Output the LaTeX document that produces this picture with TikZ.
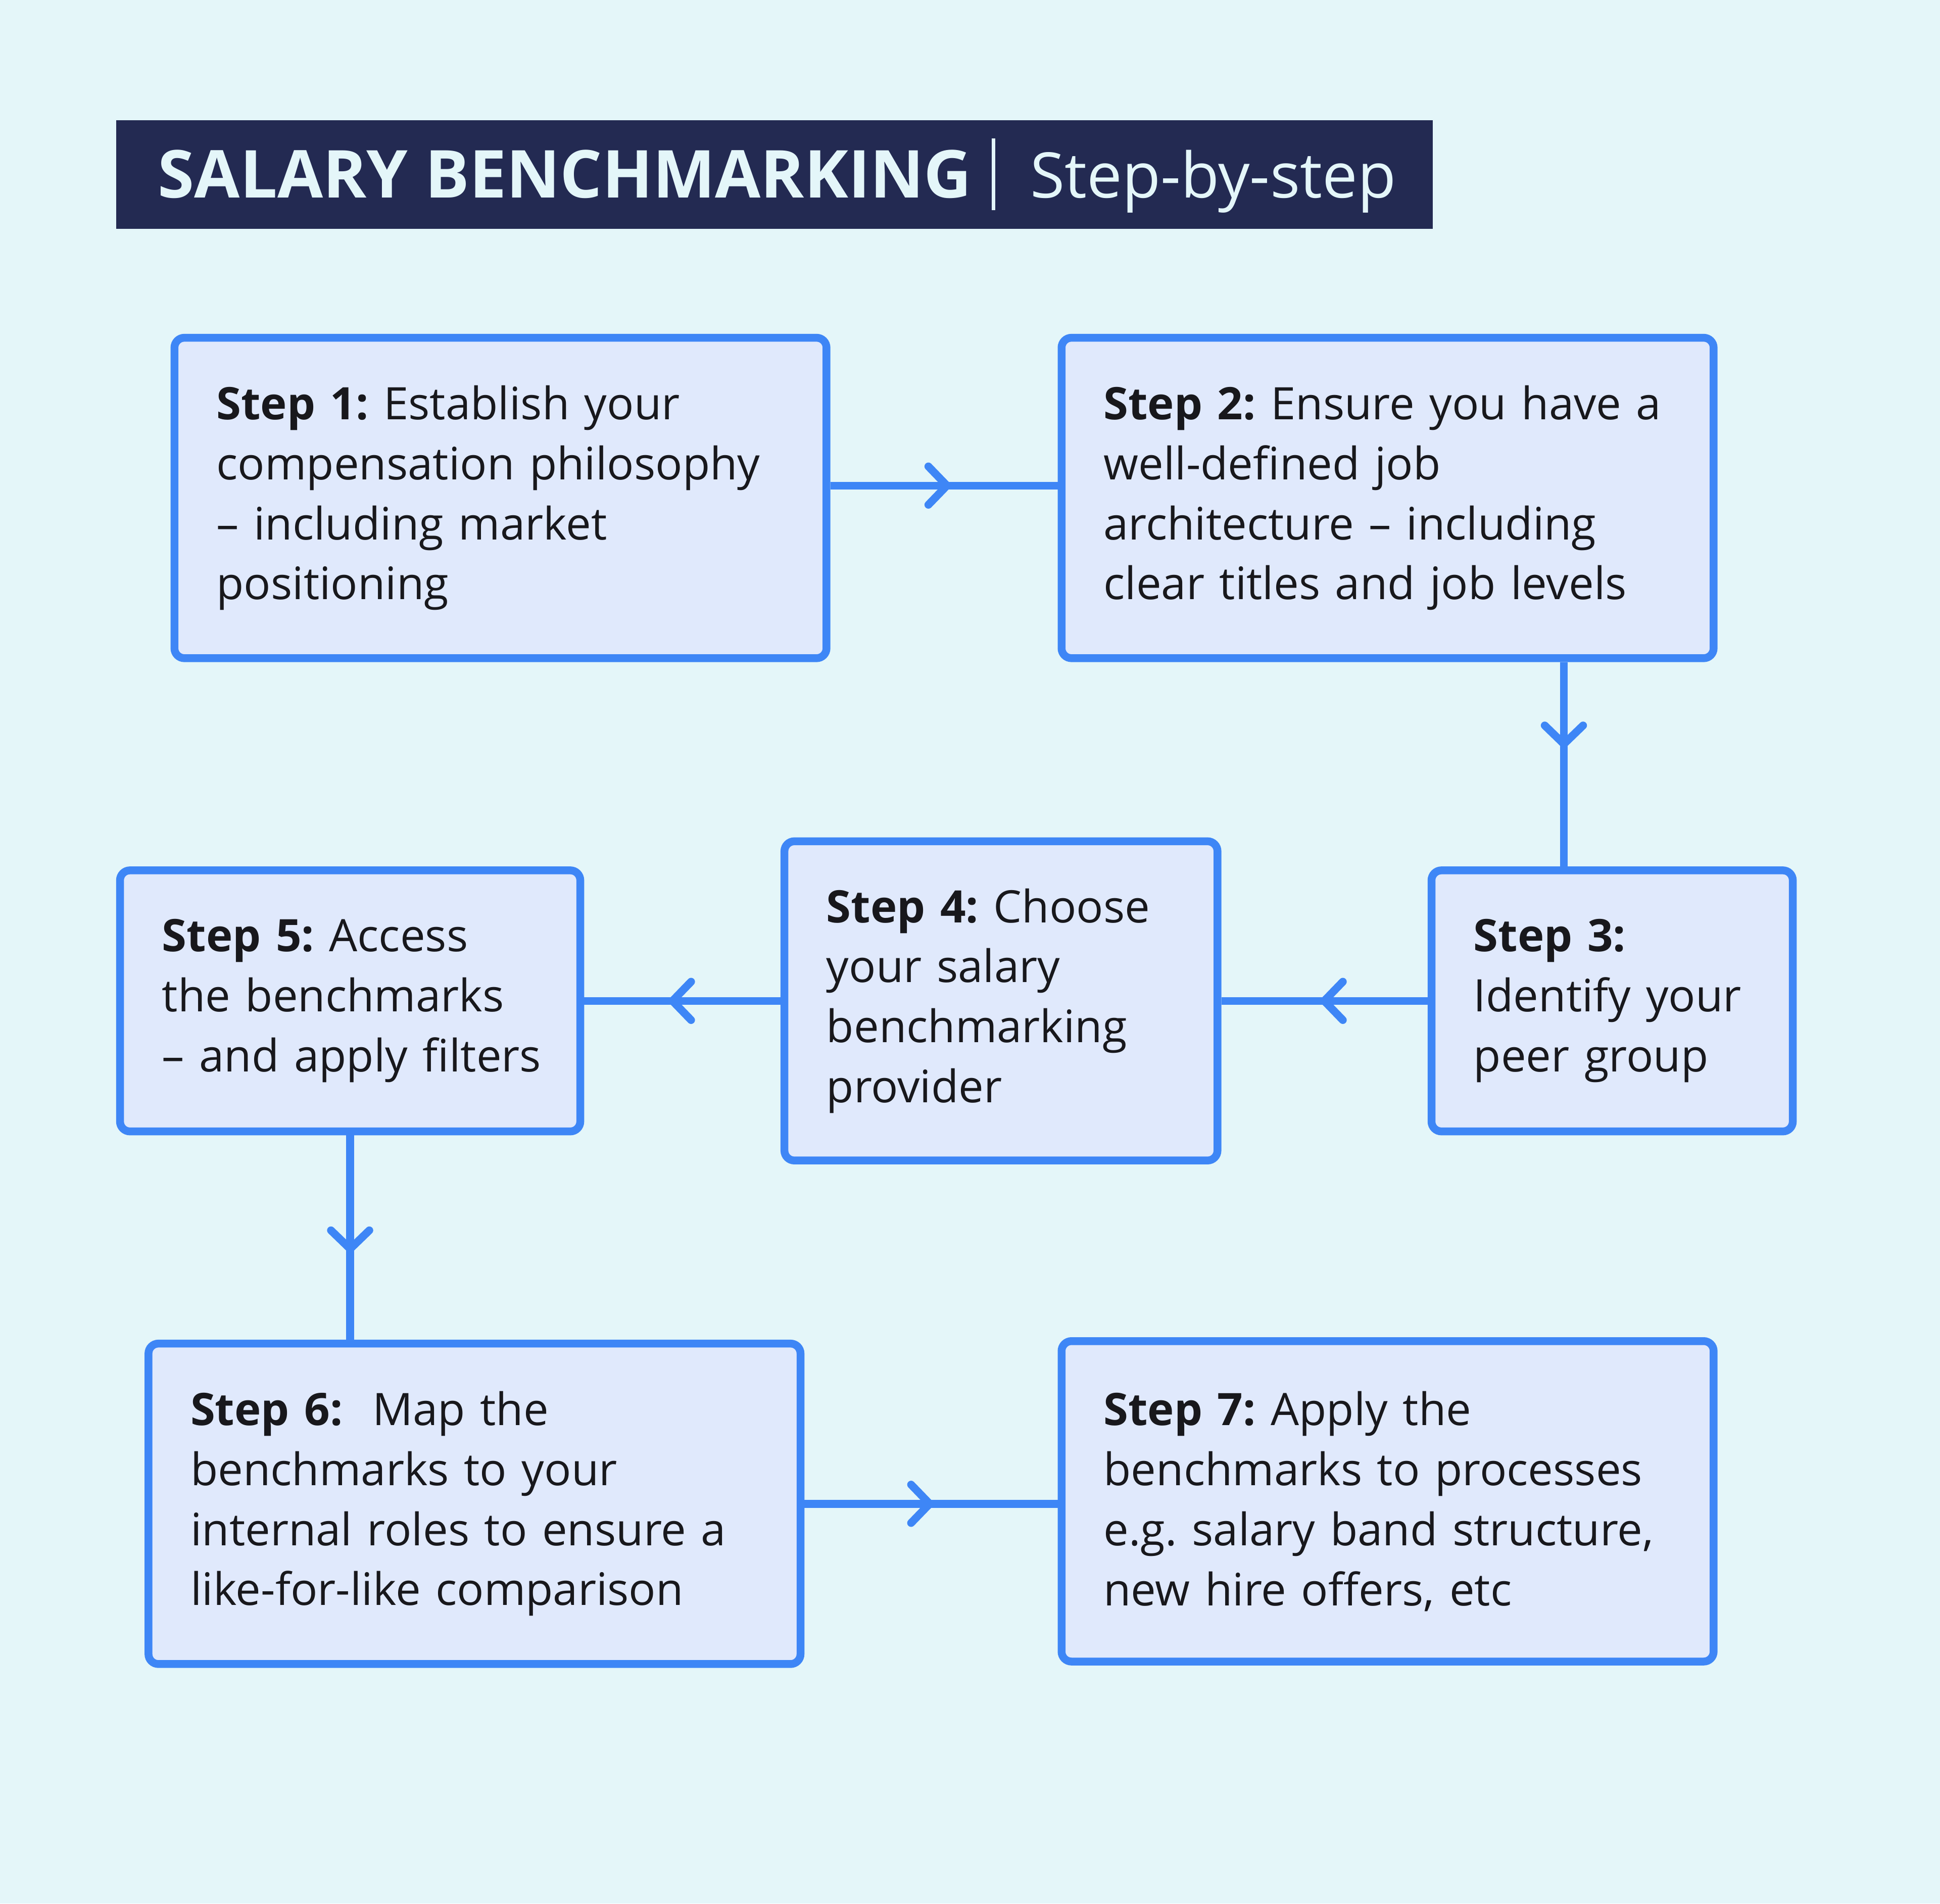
\documentclass[tikz,border=0pt]{standalone}
\usepackage{fontspec}
\setmainfont{Open Sans}
\usetikzlibrary{arrows.meta,decorations.markings}
\definecolor{sbback}{RGB}{228,246,249}
\definecolor{sbfill}{RGB}{224,233,252}
\definecolor{sbblue}{RGB}{62,134,246}
\definecolor{sbnavy}{RGB}{35,42,82}
\definecolor{sbtext}{RGB}{24,24,28}

\tikzset{
  stepbox/.style={draw=sbblue, fill=sbfill, line width=1.8pt, rounded corners=0.8mm,
    inner xsep=0.34cm, inner ysep=0pt, align=left, text=sbtext,
    font=\fontsize{10.3}{13.8}\selectfont\frenchspacing},
  flow/.style={draw=sbblue, line width=1.8pt, postaction={decorate},
    decoration={markings, mark=at position #1 with
      {\arrow{Straight Barb[length=1.5mm, width=3.1mm, line width=1.8pt, round]}}}},
  flow/.default=0.5,
}

\begin{document}
\begin{tikzpicture}
\fill[sbback] (0,0) rectangle (15.68,-15.386);
\useasboundingbox (0,0) rectangle (15.68,-15.386);

% Title bar
\node[fill=sbnavy, minimum width=10.64cm, minimum height=0.88cm, inner sep=0] (ttl) at (6.26,-1.41) {};
\node[anchor=base west, inner sep=0, text=sbback, font=\fontsize{15.2}{18}\selectfont\bfseries] (ttlmain) at (1.27,-1.60) {SALARY BENCHMARKING};
\node[anchor=base west, inner sep=0, text=sbback, font=\fontsize{14.45}{18}\selectfont] (ttlsub) at (8.32,-1.60) {Step-by-step};
\draw[sbback, line width=0.9pt] (8.03,-1.12) -- (8.03,-1.70);

% Step 1
\node[stepbox, minimum width=5.27cm, minimum height=2.59cm, text width=4.59cm] (s1) at (4.045,-4.025)
  {\textbf{Step 1:} Establish your\\compensation philosophy\\– including market\\positioning};

% Step 2
\node[stepbox, minimum width=5.27cm, minimum height=2.59cm, text width=4.59cm] (s2) at (11.215,-4.025)
  {\textbf{Step 2:} Ensure you have a\\well-defined job\\architecture – including\\clear titles and job levels};

% Step 3
\node[stepbox, minimum width=2.92cm, minimum height=2.11cm, text width=2.24cm] (s3) at (13.03,-8.09)
  {\textbf{Step 3:}\\Identify your\\peer group};

% Step 4
\node[stepbox, minimum width=3.50cm, minimum height=2.58cm, text width=2.82cm] (s4) at (8.09,-8.09)
  {\textbf{Step 4:} Choose\\your salary\\benchmarking\\provider};

% Step 5
\node[stepbox, minimum width=3.72cm, minimum height=2.11cm, text width=3.04cm] (s5) at (2.83,-8.09)
  {\textbf{Step 5:} Access\\the benchmarks\\\mbox{– and apply filters}};

% Step 6
\node[stepbox, minimum width=5.27cm, minimum height=2.59cm, text width=4.59cm] (s6) at (3.835,-12.155)
  {\textbf{Step 6:}\ \ Map the\\benchmarks to your\\internal roles to ensure a\\like-for-like comparison};

% Step 7
\node[stepbox, minimum width=5.27cm, minimum height=2.59cm, text width=4.59cm] (s7) at (11.215,-12.135)
  {\textbf{Step 7:} Apply the\\benchmarks to processes\\e.g. salary band structure,\\new hire offers, etc};

% connectors
\draw[flow=0.53] ([yshift=0.1cm]s1.east) -- ([yshift=0.1cm]s2.west);
\draw[flow=0.42] ([xshift=-0.39cm]s3.north |- s2.south) -- ([xshift=-0.39cm]s3.north);
\draw[flow=0.52] (s3.west) -- (s4.east);
\draw[flow=0.57] (s4.west) -- (s5.east);
\draw[flow=0.575] (s5.south) -- (s6.north -| s5.south);
\draw[flow=0.51] (s6.east) -- (s7.west |- s6.east);
\end{tikzpicture}
\end{document}
